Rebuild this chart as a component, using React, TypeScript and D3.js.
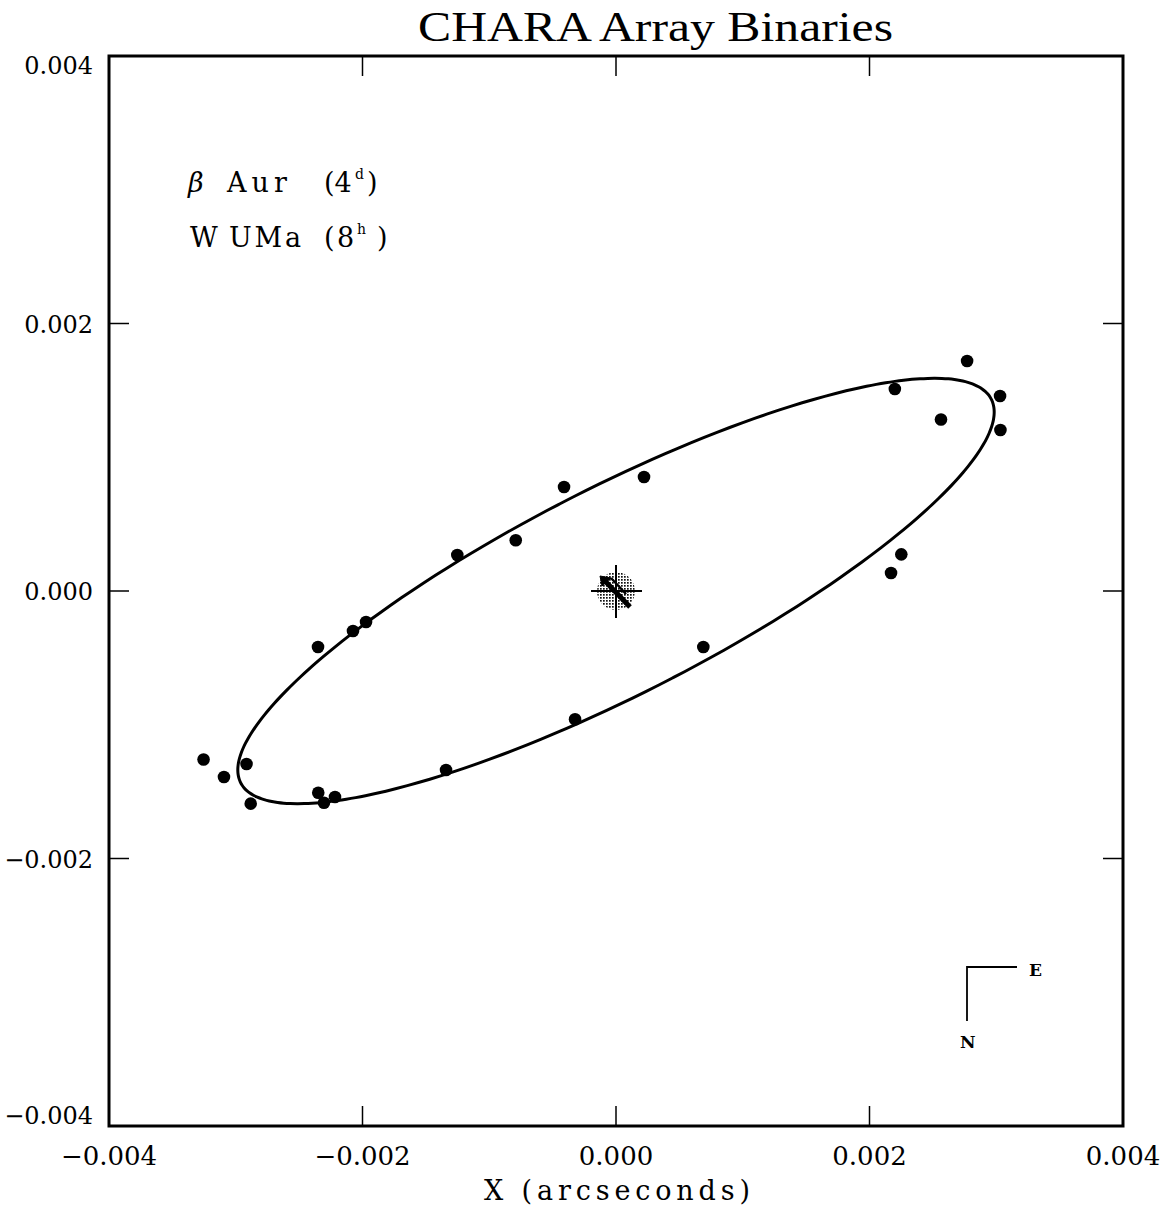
import React, { useEffect, useRef } from "react";
import * as d3 from "d3";

// relative positions of the companion (arcseconds)
const obsX = [
  0.00277, 0.0022, 0.00303, 0.002564, 0.003033, 0.000221, -0.00041, -0.000791,
  -0.001252, 0.002251, 0.00217, -0.001972, -0.002075, -0.002351, 0.000689,
  -0.000323, -0.001341, -0.003254, -0.003093, -0.002915, -0.002882, -0.002349,
  -0.002304, -0.002217,
];
const obsY = [
  0.00172, 0.00151, 0.001458, 0.001282, 0.001204, 0.000852, 0.000778, 0.000379,
  0.000269, 0.000274, 0.000135, -0.000232, -0.000299, -0.000419, -0.000419,
  -0.000959, -0.001338, -0.00126, -0.001391, -0.001293, -0.00159, -0.001508,
  -0.001583, -0.00154,
];

// fitted orbit (semi-major, semi-minor in arcsec, tilt in degrees)
const orbitA = 0.00329;
const orbitB = 0.00078;
const orbitTilt = 25.7;

const xTicks = [-0.004, -0.002, 0, 0.002, 0.004];
const yTicks = [-0.004, -0.002, 0, 0.002, 0.004];
const tickLabels = ["\u22120.004", "\u22120.002", "0.000", "0.002", "0.004"];

const title = "CHARA Array Binaries";
const xLabel = "X (arcseconds)";

const App = () => {
  const svgRef = useRef<SVGSVGElement | null>(null);

  useEffect(() => {
    drawChart();
  }, []);

  const drawChart = () => {
    const left = 109, right = 1123, top = 56, bottom = 1126;
    const font = "'DejaVu Serif', serif";
    const titleFont = "'Liberation Serif', 'Times New Roman', serif";

    const svg = d3.select(svgRef.current);
    svg.selectAll("*").remove();

    const x = d3.scaleLinear().domain([-0.004, 0.004]).range([left, right]);
    const y = d3.scaleLinear().domain([-0.004, 0.004]).range([bottom, top]);

    // stipple pattern for the primary
    const defs = svg.append("defs");
    const pat = defs
      .append("pattern")
      .attr("id", "stipple")
      .attr("width", 3)
      .attr("height", 3)
      .attr("patternUnits", "userSpaceOnUse");
    pat.append("rect").attr("width", 3).attr("height", 3).attr("fill", "#fff");
    pat.append("rect").attr("width", 1.7).attr("height", 1.7).attr("fill", "#111");

    // Title
    svg
      .append("text")
      .attr("x", 418)
      .attr("y", 41)
      .attr("textLength", 475)
      .attr("lengthAdjust", "spacingAndGlyphs")
      .style("font-family", titleFont)
      .style("font-size", "42px")
      .text(title);

    // frame
    svg
      .append("rect")
      .attr("x", left)
      .attr("y", top)
      .attr("width", right - left)
      .attr("height", bottom - top)
      .attr("fill", "none")
      .attr("stroke", "#000")
      .attr("stroke-width", 3);

    const tickLen = 20;
    const inner = [-0.002, 0, 0.002];
    const ticks = svg.append("g").attr("stroke", "#000").attr("stroke-width", 1.5);
    inner.forEach((t) => {
      ticks.append("line").attr("x1", x(t)).attr("x2", x(t)).attr("y1", top).attr("y2", top + tickLen);
      ticks.append("line").attr("x1", x(t)).attr("x2", x(t)).attr("y1", bottom).attr("y2", bottom - tickLen);
      ticks.append("line").attr("y1", y(t)).attr("y2", y(t)).attr("x1", left).attr("x2", left + tickLen);
      ticks.append("line").attr("y1", y(t)).attr("y2", y(t)).attr("x1", right).attr("x2", right - tickLen);
    });

    // x tick labels
    svg
      .append("g")
      .selectAll("text")
      .data(xTicks)
      .enter()
      .append("text")
      .attr("x", (d) => x(d))
      .attr("y", 1165)
      .attr("text-anchor", "middle")
      .style("font-family", font)
      .style("font-size", "26px")
      .text((d, i) => tickLabels[i]);

    // y tick labels
    svg
      .append("g")
      .selectAll("text")
      .data(yTicks)
      .enter()
      .append("text")
      .attr("x", 93)
      .attr("y", (d) => (d === 0.004 ? y(d) + 18 : d === -0.004 ? y(d) - 2 : y(d) + 9))
      .attr("text-anchor", "end")
      .style("font-family", font)
      .style("font-size", "24px")
      .text((d, i) => tickLabels[i]);

    // X-axis label
    svg
      .append("text")
      .attr("x", 484)
      .attr("y", 1200)
      .attr("textLength", 266)
      .attr("lengthAdjust", "spacing")
      .style("font-family", font)
      .style("font-size", "27px")
      .text(xLabel);

    // orbit
    const phi = (orbitTilt * Math.PI) / 180;
    const orbit = d3.range(0, 360, 2).map((deg) => {
      const t = (deg * Math.PI) / 180;
      return [
        orbitA * Math.cos(t) * Math.cos(phi) - orbitB * Math.sin(t) * Math.sin(phi),
        orbitA * Math.cos(t) * Math.sin(phi) + orbitB * Math.sin(t) * Math.cos(phi),
      ];
    });
    const line = d3
      .line<number[]>()
      .x((d) => x(d[0]))
      .y((d) => y(d[1]))
      .curve(d3.curveCardinalClosed);
    svg
      .append("path")
      .attr("d", line(orbit))
      .attr("fill", "none")
      .attr("stroke", "#000")
      .attr("stroke-width", 3);

    // primary marker
    const cx = x(0), cy = y(0);
    svg.append("circle").attr("cx", cx).attr("cy", cy).attr("r", 19).attr("fill", "url(#stipple)");
    const mk = svg.append("g").attr("stroke", "#000");
    mk.append("line").attr("x1", cx - 25).attr("x2", cx + 26).attr("y1", cy).attr("y2", cy).attr("stroke-width", 2);
    mk.append("line").attr("x1", cx).attr("x2", cx).attr("y1", cy - 26).attr("y2", cy + 27).attr("stroke-width", 2);
    mk.append("line").attr("x1", cx - 11).attr("y1", cy - 10).attr("x2", cx + 14).attr("y2", cy + 16).attr("stroke-width", 5);
    mk.append("line").attr("x1", cx - 5).attr("y1", cy - 13).attr("x2", cx + 10).attr("y2", cy + 3).attr("stroke-width", 2.5);
    mk.append("path")
      .attr("d", `M${cx - 16},${cy - 15} l11,2 l-9,8 Z`)
      .attr("fill", "#000")
      .attr("stroke-width", 1);

    // observations
    svg
      .append("g")
      .selectAll("circle")
      .data(obsX)
      .enter()
      .append("circle")
      .attr("cx", (d) => x(d))
      .attr("cy", (d, i) => y(obsY[i]))
      .attr("r", 6.3)
      .attr("fill", "#000");

    // legend
    const lg = svg.append("g").style("font-family", font).style("font-size", "27px");
    lg.append("text").attr("x", 188).attr("y", 192).style("font-style", "italic").text("\u03b2");
    lg.append("text").attr("x", 227).attr("y", 192).attr("textLength", 60).attr("lengthAdjust", "spacing").text("Aur");
    lg.append("text").attr("x", 324).attr("y", 192).text("(4");
    lg.append("text").attr("x", 355).attr("y", 179).style("font-size", "14px").text("d");
    lg.append("text").attr("x", 367).attr("y", 192).text(")");
    lg.append("text").attr("x", 190).attr("y", 247).text("W");
    lg.append("text").attr("x", 229).attr("y", 247).attr("textLength", 72).attr("lengthAdjust", "spacing").text("UMa");
    lg.append("text").attr("x", 324).attr("y", 247).text("(");
    lg.append("text").attr("x", 337).attr("y", 247).text("8");
    lg.append("text").attr("x", 357).attr("y", 234).style("font-size", "14px").text("h");
    lg.append("text").attr("x", 377).attr("y", 247).text(")");

    // compass
    svg
      .append("path")
      .attr("d", "M1017,967 H967 V1021")
      .attr("fill", "none")
      .attr("stroke", "#000")
      .attr("stroke-width", 1.8);
    svg.append("text").attr("x", 1029).attr("y", 976).style("font-family", font).style("font-size", "17px").style("font-weight", "bold").text("E");
    svg.append("text").attr("x", 960).attr("y", 1048).style("font-family", font).style("font-size", "17px").style("font-weight", "bold").text("N");
  };

  return (
    <svg
      ref={svgRef}
      width={1161}
      height={1205}
      style={{ position: "absolute", left: 0, top: 0, background: "#fff" }}
    ></svg>
  );
};

export default App;
